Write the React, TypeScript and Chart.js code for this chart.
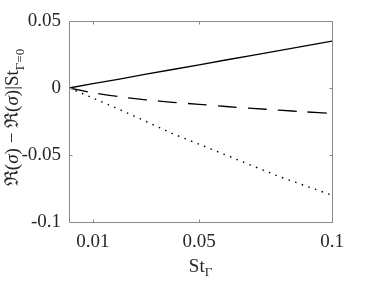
import React, { useEffect, useRef } from "react";
import { Chart, registerables } from "chart.js";

Chart.register(...registerables);

const xValues = [0.001, 0.01, 0.02, 0.03, 0.04, 0.05, 0.06, 0.07, 0.08, 0.09, 0.1];
const solidValues = [0, 0.0032, 0.0067, 0.0103, 0.0138, 0.0173, 0.0209, 0.0244, 0.0279, 0.0315, 0.035];
const dashedValues = [0, -0.0035, -0.0065, -0.0088, -0.0107, -0.0122, -0.0138, -0.0152, -0.0165, -0.0178, -0.019];
const dottedValues = [0, -0.0075, -0.016, -0.025, -0.034, -0.042, -0.05, -0.058, -0.066, -0.073, -0.08];
const xTickValues = [0.01, 0.05, 0.1];
const xTickLabels = ["0.01", "0.05", "0.1"];
const yTickValues = [-0.1, -0.05, 0, 0.05];
const yTickLabels = ["-0.1", "-0.05", "0", "0.05"];

const FONT = "'Liberation Serif', 'DejaVu Serif', serif";

type Seg = { t: string; size: number; italic?: boolean; dy: number };

function drawSegs(ctx: CanvasRenderingContext2D, segs: Seg[], cx: number, baseY: number) {
  let total = 0;
  const widths: number[] = [];
  for (const s of segs) {
    ctx.font = `${s.italic ? "italic " : ""}${s.size}px ${FONT}`;
    const w = ctx.measureText(s.t).width;
    widths.push(w);
    total += w;
  }
  let x = cx - total / 2;
  segs.forEach((s, i) => {
    ctx.font = `${s.italic ? "italic " : ""}${s.size}px ${FONT}`;
    ctx.fillText(s.t, x, baseY + s.dy);
    x += widths[i];
  });
}

const framePlugin = {
  id: "frame",
  afterDraw(chart: any) {
    const { ctx, chartArea } = chart;
    const { left, right, top, bottom } = chartArea;
    const xs = chart.scales.x;
    const ys = chart.scales.y;
    ctx.save();
    ctx.strokeStyle = "#8a8a8a";
    ctx.lineWidth = 1;
    const L = Math.round(left) + 0.5;
    const R = Math.round(right) + 0.5;
    const T = Math.round(top) + 0.5;
    const B = Math.round(bottom) + 0.5;
    ctx.beginPath();
    ctx.rect(L, T, R - L, B - T);
    const tl = 3;
    for (const v of xTickValues) {
      const px = Math.round(xs.getPixelForValue(v)) + 0.5;
      ctx.moveTo(px, B);
      ctx.lineTo(px, B - tl);
      ctx.moveTo(px, T);
      ctx.lineTo(px, T + tl);
    }
    for (const v of yTickValues) {
      const py = Math.round(ys.getPixelForValue(v)) + 0.5;
      ctx.moveTo(L, py);
      ctx.lineTo(L + tl, py);
      ctx.moveTo(R, py);
      ctx.lineTo(R - tl, py);
    }
    ctx.stroke();

    ctx.fillStyle = "#262626";
    ctx.textBaseline = "alphabetic";
    ctx.textAlign = "left";
    // x title
    drawSegs(
      ctx,
      [
        { t: "St", size: 19, dy: 0 },
        { t: "Γ", size: 13, dy: 4 },
      ],
      (left + right) / 2,
      272
    );
    // y title
    ctx.translate(18, 117.5);
    ctx.rotate(-Math.PI / 2);
    drawSegs(
      ctx,
      [
        { t: "ℜ(", size: 19, dy: 0 },
        { t: "σ", size: 19, italic: true, dy: 0 },
        { t: ") − ℜ(", size: 19, dy: 0 },
        { t: "σ", size: 19, italic: true, dy: 0 },
        { t: ")|St", size: 19, dy: 0 },
        { t: "Γ=0", size: 13, dy: 6 },
      ],
      0,
      0
    );
    ctx.restore();
  },
};

export default function App() {
  const ref = useRef<HTMLCanvasElement>(null);
  useEffect(() => {
    if (!ref.current) return;
    const mk = (vals: number[]) => xValues.map((x, i) => ({ x, y: vals[i] }));
    const chart = new Chart(ref.current, {
      type: "line",
      data: {
        datasets: [
          { data: mk(solidValues), borderColor: "#000", borderWidth: 1.3, pointRadius: 0, tension: 0 },
          { data: mk(dashedValues), borderColor: "#000", borderWidth: 1.3, borderDash: [19, 11], pointRadius: 0, tension: 0.3 },
          { data: mk(dottedValues), borderColor: "#000", borderWidth: 1.4, borderDash: [1.5, 5.5], pointRadius: 0, tension: 0 },
        ],
      },
      options: {
        animation: false,
        responsive: false,
        maintainAspectRatio: false,
        layout: { padding: { top: 21, right: 35, left: 0, bottom: 0 } },
        plugins: { legend: { display: false }, tooltip: { enabled: false } },
        scales: {
          x: {
            type: "linear",
            min: 0.001,
            max: 0.1,
            grid: { display: false, drawTicks: false },
            border: { display: false },
            afterFit: (s: any) => {
              s.height = 72;
            },
            afterBuildTicks: (s: any) => {
              s.ticks = xTickValues.map((v) => ({ value: v }));
            },
            ticks: {
              autoSkip: false,
              maxRotation: 0,
              padding: 9,
              color: "#262626",
              font: { family: FONT, size: 19 },
              callback: (v: any) => {
                const i = xTickValues.findIndex((t) => Math.abs(t - Number(v)) < 1e-9);
                return i >= 0 ? xTickLabels[i] : "";
              },
            },
          },
          y: {
            type: "linear",
            min: -0.1,
            max: 0.05,
            grid: { display: false, drawTicks: false },
            border: { display: false },
            afterFit: (s: any) => {
              s.width = 69;
            },
            afterBuildTicks: (s: any) => {
              s.ticks = yTickValues.map((v) => ({ value: v }));
            },
            ticks: {
              autoSkip: false,
              padding: 8,
              color: "#262626",
              font: { family: FONT, size: 19 },
              callback: (v: any) => {
                const i = yTickValues.findIndex((t) => Math.abs(t - Number(v)) < 1e-9);
                return i >= 0 ? yTickLabels[i] : "";
              },
            },
          },
        },
      },
      plugins: [framePlugin],
    });
    return () => chart.destroy();
  }, []);
  return (
    <div style={{ position: "fixed", left: 0, top: 0, width: 367, height: 294, background: "#fff" }}>
      <canvas ref={ref} width={367} height={294} style={{ display: "block" }} />
    </div>
  );
}
